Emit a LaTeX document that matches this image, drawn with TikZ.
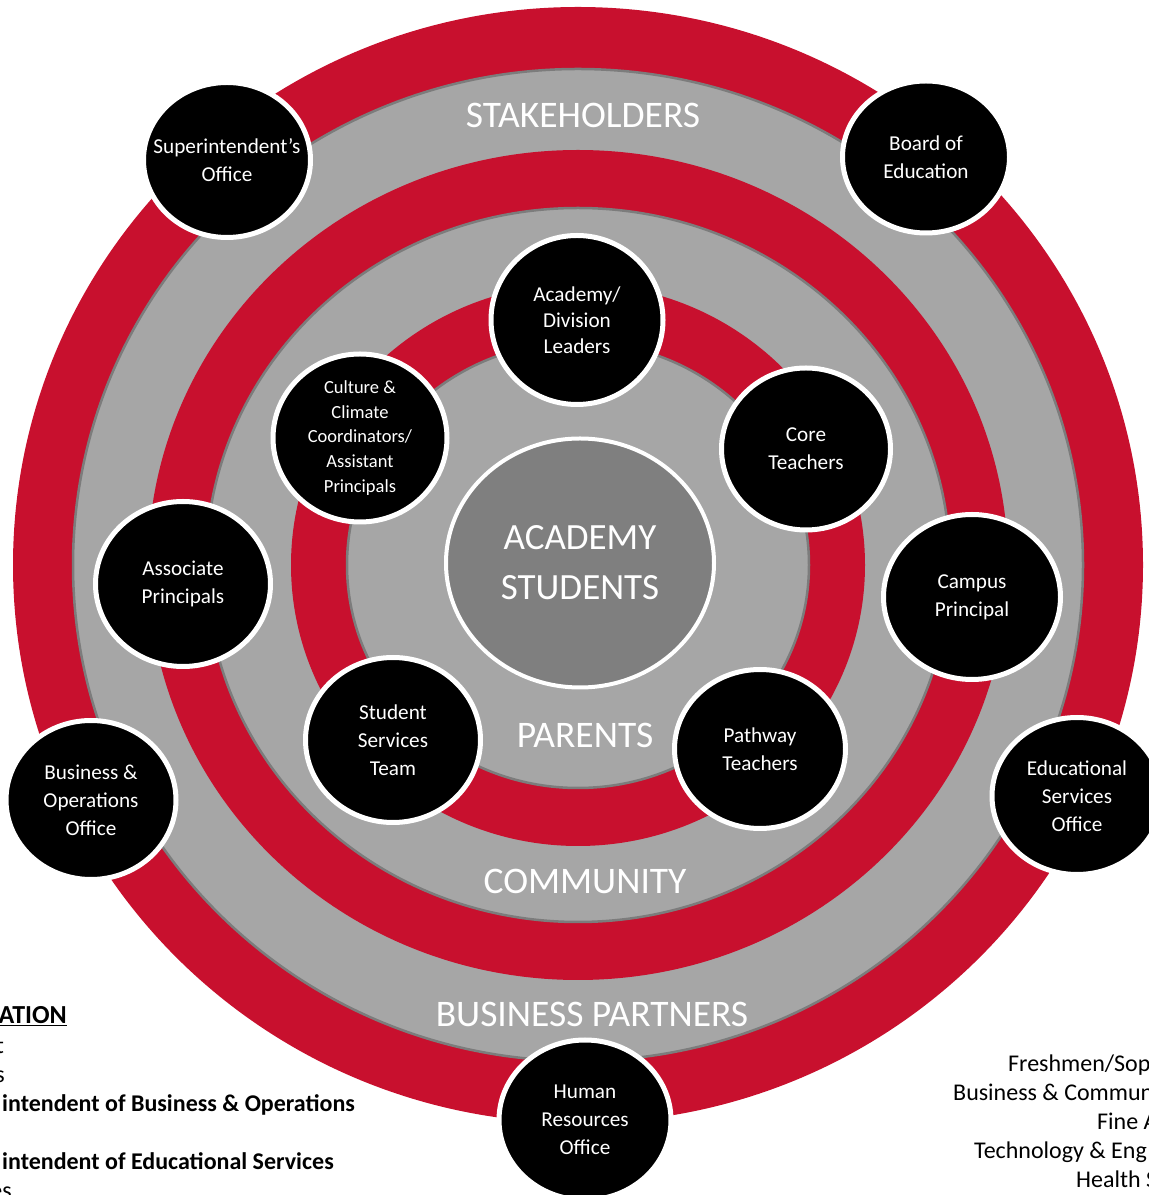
\documentclass[tikz,border=0pt]{standalone}
\usepackage{fontspec}
\setmainfont{Carlito}
\usetikzlibrary{shapes.geometric}
\definecolor{crimson}{HTML}{C8102E}
\definecolor{ringgray}{HTML}{A6A6A6}
\definecolor{rim}{HTML}{7C7C7C}
\definecolor{hubgray}{HTML}{7F7F7F}

\begin{document}
\begin{tikzpicture}
  [x=1pt,y=1pt,
   band/.style={fill=ringgray,draw=rim,line width=2.5pt},
   role/.style={ellipse,fill=black,draw=white,line width=5pt,text=white,
     align=center,inner sep=-20pt,font=\fontsize{21.2}{28}\selectfont},
   ringlabel/.style={text=white,inner sep=0pt,font=\fontsize{37.5}{44}\selectfont},
   note/.style={inner sep=0pt,font=\fontsize{24}{29}\selectfont}]
  \useasboundingbox (0,0) rectangle (1149,1195);
  % rings
  \coordinate (hub) at (578,630);
  \fill[crimson] (hub) ellipse [x radius=565,y radius=558];
  \filldraw[band] (hub) ellipse [x radius=505,y radius=496];
  \fill[crimson] (hub) ellipse [x radius=430,y radius=415];
  \filldraw[band] (hub) ellipse [x radius=372,y radius=357];
  \fill[crimson] (hub) ellipse [x radius=287,y radius=281];
  \filldraw[band] (hub) ellipse [x radius=231,y radius=223];
  \node[ringlabel] (stake) at (583,1080) {STAKEHOLDERS};
  \node[ringlabel] (parents) at (585,460) {PARENTS};
  \node[ringlabel] (community) at (585,314) {COMMUNITY};
  \node[ringlabel] (partners) at (592,181) {BUSINESS PARTNERS};
  % centre
  \node[ellipse,fill=hubgray,draw=white,line width=4pt,minimum width=268pt,
    minimum height=249pt,text=white,align=center,inner sep=0pt,
    font=\fontsize{37}{50}\selectfont] (students) at (580,632) {ACADEMY\\STUDENTS};
  % roles
  \node[role,minimum width=167pt,minimum height=155pt] (super) at (227,1035) {Superintendent’s\\Office};
  \node[role,minimum width=167pt,minimum height=152pt] (board) at (926,1038) {Board of\\Education};
  \node[role,minimum width=172pt,minimum height=169pt,font=\fontsize{21.2}{26}\selectfont]
    (leaders) at (577,875) {Academy/\\Division\\Leaders};
  \node[role,minimum width=174pt,minimum height=168pt,font=\fontsize{18.5}{24.8}\selectfont]
    (culture) at (360,757) {Culture \&\\Climate\\Coordinators/\\Assistant\\Principals};
  \node[role,minimum width=169pt,minimum height=162pt] (core) at (806,746) {Core\\Teachers};
  \node[role,minimum width=175pt,minimum height=165pt] (assoc) at (183,611) {Associate\\Principals};
  \node[role,minimum width=177pt,minimum height=165pt] (campus) at (972,598) {Campus\\Principal};
  \node[role,minimum width=175pt,minimum height=165pt] (services) at (393,455) {Student\\Services\\Team};
  \node[role,minimum width=171pt,minimum height=159pt] (pathway) at (760,446) {Pathway\\Teachers};
  \node[role,minimum width=170pt,minimum height=159pt] (busops) at (91,395) {Business \&\\Operations\\Office};
  \node[role,minimum width=170pt,minimum height=157pt] (edserv) at (1077,399) {Educational\\Services\\Office};
  \node[role,minimum width=172pt,minimum height=160pt] (hr) at (585,75) {Human\\Resources\\Office};
  % notes at the foot
  \node[note,anchor=base east,font=\fontsize{26}{30}\bfseries] (head) at (67,171) {\underline{ATION}};
  \node[note,anchor=base east] (la) at (4,141) {t};
  \node[note,anchor=base east] (lb) at (5,112) {s};
  \node[note,anchor=base west,font=\fontsize{24}{29}\bfseries] (lc) at (2,83) {intendent of Business \& Operations};
  \node[note,anchor=base west,font=\fontsize{24}{29}\bfseries] (ld) at (2,25) {intendent of Educational Services};
  \node[note,anchor=base east] (le) at (12,-4) {es};
  \node[note,anchor=base west] (ra) at (1008,123) {Freshmen/Sop};
  \node[note,anchor=base west] (rb) at (953,94) {Business \& Commun};
  \node[note,anchor=base west] (rc) at (1097,65) {Fine A};
  \node[note,anchor=base west] (rd) at (974,36) {Technology \& Eng};
  \node[note,anchor=base west] (re) at (1076,7) {Health S};
\end{tikzpicture}
\end{document}
